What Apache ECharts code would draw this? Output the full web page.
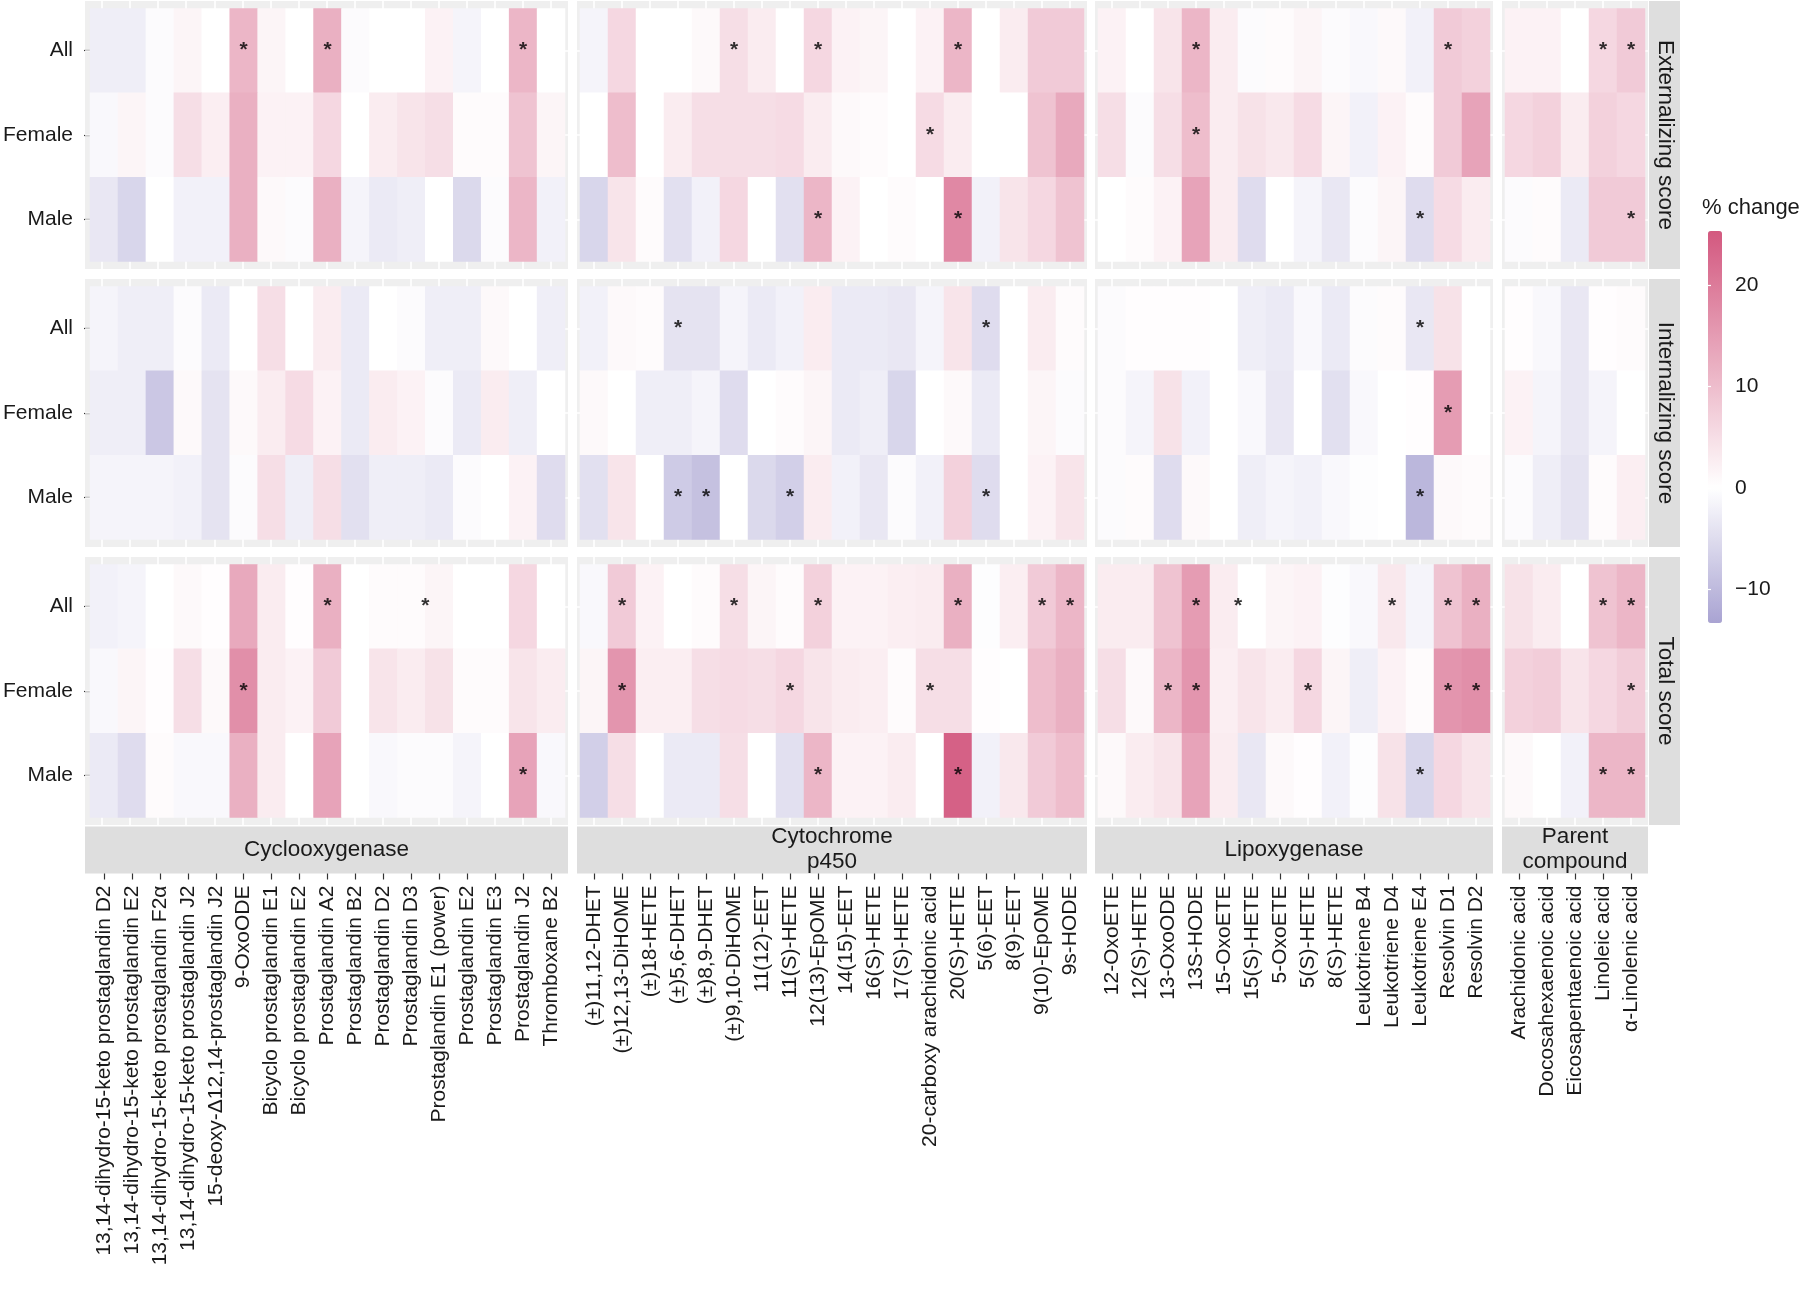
<!DOCTYPE html>
<html>
<head>
<meta charset="utf-8">
<script src="https://cdn.jsdelivr.net/npm/echarts@6/dist/echarts.min.js"></script>
<style>
  html, body { margin: 0; background: #fff; }
  #chart { width: 1800px; height: 1293px; }
</style>
</head>
<body>
<div id="chart"></div>
<script>
// facet labels
const scoreNames = ['Externalizing score', 'Internalizing score', 'Total score'];
const groupNames = ['Cyclooxygenase', 'Cytochrome\np450', 'Lipoxygenase', 'Parent\ncompound'];
const sexes = ['All', 'Female', 'Male'];

// metabolites per pathway
const cyclooxygenase = [
  '13,14-dihydro-15-keto prostaglandin D2', '13,14-dihydro-15-keto prostaglandin E2',
  '13,14-dihydro-15-keto prostaglandin F2α', '13,14-dihydro-15-keto prostaglandin J2',
  '15-deoxy-Δ12,14-prostaglandin J2', '9-OxoODE', 'Bicyclo prostaglandin E1',
  'Bicyclo prostaglandin E2', 'Prostaglandin A2', 'Prostaglandin B2', 'Prostaglandin D2',
  'Prostaglandin D3', 'Prostaglandin E1 (power)', 'Prostaglandin E2', 'Prostaglandin E3',
  'Prostaglandin J2', 'Thromboxane B2'
];
const cytochrome = [
  '(±)11,12-DHET', '(±)12,13-DiHOME', '(±)18-HETE', '(±)5,6-DHET', '(±)8,9-DHET',
  '(±)9,10-DiHOME', '11(12)-EET', '11(S)-HETE', '12(13)-EpOME', '14(15)-EET', '16(S)-HETE',
  '17(S)-HETE', '20-carboxy arachidonic acid', '20(S)-HETE', '5(6)-EET', '8(9)-EET',
  '9(10)-EpOME', '9s-HODE'
];
const lipoxygenase = [
  '12-OxoETE', '12(S)-HETE', '13-OxoODE', '13S-HODE', '15-OxoETE', '15(S)-HETE', '5-OxoETE',
  '5(S)-HETE', '8(S)-HETE', 'Leukotriene B4', 'Leukotriene D4', 'Leukotriene E4',
  'Resolvin D1', 'Resolvin D2'
];
const parentCompound = [
  'Arachidonic acid', 'Docosahexaenoic acid', 'Eicosapentaenoic acid', 'Linoleic acid', 'α-Linolenic acid'
];

// % change, rows = All, Female, Male
const extCox = [
  [-2.5, -2.5, -0.5, 1.5, 0, 11, 1.5, 0, 12, -0.5, 0, 0, 2, -1.5, 0, 11, 0],
  [-1, 1.5, -0.5, 5, 2.5, 12, 2, 2, 6, 0, 3, 4, 5, 0.5, 0.5, 9, 1.5],
  [-3.5, -6, 0, -2, -2, 12, 1, -0.5, 12, -1.5, -3, -2.5, 0, -5.5, -0.5, 11, -2]
];
const extCyp = [
  [-1.5, 6, 0, 0, 1, 5, 3, 0, 6, 2, 1.5, 0, 2, 11, 0, 3, 8, 8],
  [0, 10, 0, 3, 5, 5, 5, 5.5, 3, 1, 0.5, 0, 5.5, 3, 0, 0, 9, 13],
  [-6, 4, 0.5, -4.5, -2, 6, 0, -4.5, 11, 2, 0, 0.5, 0, 18, -2, 4, 6, 9]
];
const extLox = [
  [2, 0, 4, 11, 3, -0.5, 0.5, 1.5, -0.5, -1, 1, -2, 8, 7],
  [5, -0.5, 5, 10, 3, 4.5, 3.5, 5.5, 1.5, -2, 2, 0.5, 8, 14],
  [0, 0.5, 2, 14, 3, -5, 0, -1.5, -3.5, -0.5, 1.5, -5, 5.5, 3]
];
const extParent = [
  [2, 2, 0, 6, 8],
  [6, 7, 3, 7, 6],
  [-0.5, 0.5, -3, 8, 8]
];
const intCox = [
  [-1.5, -2.5, -2.5, -0.5, -3, 0, 5, 0, 3, -3, 0, -0.5, -2.5, -2.5, 1, 0, -2.5],
  [-2.5, -2.5, -8, 1, -4, 1, 3, 5.5, 2, -3, 3, 2, -0.5, -3, 3, -2.5, 0],
  [-1.5, -1.5, -1.5, -2, -4, -0.5, 5, -2.5, 5, -4.5, -2.5, -2.5, -3, -0.5, 0, 2, -5]
];
const intCyp = [
  [-2, 1, 0.5, -4, -4, -1.5, -3, -2, 3, -3, -3, -3.5, -1.5, 4, -5, 0, 3, 0.5],
  [1, 0, -2.5, -2.5, -1.5, -5, 0, 0.5, 1.5, -3, -2.5, -6, 0, 1, -3, 0, 1.5, -0.5],
  [-4.5, 4, 0, -7.5, -9, 0, -5.5, -7, 3, -2, -3.5, -0.5, -2, 7, -5, 0, 2, 4]
];
const intLox = [
  [-0.5, 0.3, 0.3, 0.3, 0, -2.5, -3, -1, -3, -0.5, 0.5, -3.5, 4.5, 0],
  [-0.5, -1.5, 4.5, -2, 0, -1, -3.5, 0, -4.5, -1, 0, 0.3, 15, 0],
  [-0.5, 0.5, -5, 1, 0, -2.5, -1.5, -2, -1, -0.3, 0, -10.5, 1, 0.5]
];
const intParent = [
  [0.3, -1, -3.5, 0.3, 0.5],
  [2, -1.5, -3.5, -1.5, 0],
  [-0.5, -2.5, -4, 0.5, 2.5]
];
const totCox = [
  [-2, -1.5, 0, 1, 0.3, 13, 3, 0.3, 12, 0, 0.5, 0.5, 1.5, 0, 0, 6, 0],
  [-1, 1.5, 0.3, 5, 1, 17, 3, 2, 8, 0, 4, 3, 4.5, 0.5, 0.5, 4, 3],
  [-3, -5, 0.5, -1, -1, 12, 3, 0, 14, 0, -1, -0.5, -0.5, -1.5, 0, 14, -1]
];
const totCyp = [
  [-1, 8, 2, 0, 0.5, 5, 1.5, 0.5, 7, 2, 2, 2.5, 3, 12, -0.3, 2.5, 8, 11],
  [1.5, 16, 2.5, 2.5, 5, 5.5, 5, 6, 4, 3, 2.5, 0.5, 5, 5, 0.3, 0, 10, 12],
  [-7, 5, 0, -3, -3, 5, 0, -4.5, 11, 2, 2, 3, 0, 24, -2, 3.5, 8, 10]
];
const totLox = [
  [3, 3, 9, 15, 3, 0, 1.5, 2, -0.3, -1, 3.5, -1.5, 9, 12],
  [5, 1, 11, 16, 2.5, 4, 3, 6, 1.5, -2.5, 2, 0.5, 16, 17],
  [1, 3, 4, 14, 3, -3.5, 1, 0.3, -2, -0.3, 4.5, -6, 6, 4]
];
const totParent = [
  [4.5, 3, 0, 9, 11],
  [7, 7.5, 4, 6, 7.5],
  [1, 0, -2, 11, 11]
];

// significant cells [column, row]
const extCoxStars = [[5, 0], [8, 0], [15, 0]];
const extCypStars = [[5, 0], [8, 0], [13, 0], [12, 1], [8, 2], [13, 2]];
const extLoxStars = [[3, 0], [12, 0], [3, 1], [11, 2]];
const extParentStars = [[3, 0], [4, 0], [4, 2]];
const intCoxStars = [];
const intCypStars = [[3, 0], [14, 0], [3, 2], [4, 2], [7, 2], [14, 2]];
const intLoxStars = [[11, 0], [12, 1], [11, 2]];
const intParentStars = [];
const totCoxStars = [[8, 0], [5, 1], [15, 2]];
const totCypStars = [[1, 0], [5, 0], [8, 0], [13, 0], [16, 0], [17, 0], [1, 1], [7, 1], [12, 1], [8, 2], [13, 2]];
const totLoxStars = [[3, 0], [10, 0], [12, 0], [13, 0], [2, 1], [3, 1], [7, 1], [12, 1], [13, 1], [11, 2]];
const totParentStars = [[3, 0], [4, 0], [4, 1], [3, 2], [4, 2]];
// stars printed on the line between two columns: [score, group, left column, row]
const betweenStars = [[2, 0, 11, 0], [2, 2, 4, 0]];

const legendTicks = [-10, 0, 10, 20];
const scaleMin = -13.3, scaleMax = 25.3;

// ---- layout ----
const panelX = [[88, 477], [580, 504], [1098, 392], [1505, 140]];
const panelTop = [8.5, 286.5, 564.5];
const tileH = 253, padX = 3, padY = 7.5;
const FONT = "'Liberation Sans', Arial, Helvetica, sans-serif";
const PANEL_BG = '#efefef', STRIP_BG = '#dedede';

const groups = [cyclooxygenase, cytochrome, lipoxygenase, parentCompound];
const values = [
  [extCox, extCyp, extLox, extParent],
  [intCox, intCyp, intLox, intParent],
  [totCox, totCyp, totLox, totParent]
];
const stars = [
  [extCoxStars, extCypStars, extLoxStars, extParentStars],
  [intCoxStars, intCypStars, intLoxStars, intParentStars],
  [totCoxStars, totCypStars, totLoxStars, totParentStars]
];

// colour ramp (lavender - white - pink, zero = white)
function hex(c) { return [1, 3, 5].map(i => parseInt(c.substr(i, 2), 16)); }
const stops = [[scaleMin, hex('#a9a3d2')], [0, hex('#ffffff')], [scaleMax, hex('#d3587f')]];
function rampColor(v) {
  let a = stops[0], b = stops[1];
  if (v > 0) { a = stops[1]; b = stops[2]; }
  const t = (v - a[0]) / (b[0] - a[0]);
  const c = a[1].map((x, i) => Math.round(x + (b[1][i] - x) * t));
  return 'rgb(' + c.join(',') + ')';
}
const rampColors = [];
for (let i = 0; i <= 200; i++) rampColors.push(rampColor(scaleMin + (scaleMax - scaleMin) * i / 200));

const grid = [], xAxis = [], yAxis = [], series = [], graphic = [];
const heatIdx = [];
let k = 0;
for (let s = 0; s < 3; s++) {
  for (let g = 0; g < 4; g++) {
    const cats = groups[g];
    const n = cats.length;
    const [left, width] = panelX[g];
    const top = panelTop[s];
    const cell = width / n;
    const rowH = tileH / 3;

    // grey panel with white grid lines (hidden under the tiles)
    grid.push({ left: left - padX, top: top - padY, width: width + 2 * padX, height: tileH + 2 * padY,
      show: true, backgroundColor: PANEL_BG, borderWidth: 0, z: 0 });
    xAxis.push({ gridIndex: 2 * k, type: 'value', show: false,
      min: -0.5 - padX / cell, max: n - 0.5 + padX / cell });
    yAxis.push({ gridIndex: 2 * k, type: 'value', show: false, inverse: true,
      min: -0.5 - padY / rowH, max: 2.5 + padY / rowH });
    series.push({
      type: 'scatter', xAxisIndex: 2 * k, yAxisIndex: 2 * k, data: [[0, 0]], symbolSize: 0, silent: true, z: 1,
      markLine: {
        z: 1, silent: true, symbol: ['none', 'none'], animation: false, label: { show: false },
        lineStyle: { color: '#ffffff', width: 1.6, type: 'solid' },
        data: cats.map((_, i) => ({ xAxis: i })).concat(sexes.map((_, r) => ({ yAxis: r })))
      }
    });

    // tile grid
    grid.push({ left: left, top: top, width: width, height: tileH, z: 3 });
    const bottom = s === 2;
    xAxis.push({
      gridIndex: 2 * k + 1, type: 'category', data: cats, show: bottom, offset: 56,
      axisLine: { show: false },
      axisTick: { show: bottom, length: 6, alignWithLabel: true, lineStyle: { color: '#333', width: 1.2 } },
      axisLabel: { show: bottom, interval: 0, rotate: 90, margin: 12, fontSize: 21,
        fontFamily: FONT, color: '#1a1a1a' },
      splitLine: { show: false }
    });
    yAxis.push({
      gridIndex: 2 * k + 1, type: 'category', data: sexes, inverse: true, show: g === 0,
      axisLine: { show: false },
      axisTick: { show: g === 0, length: 6, alignWithLabel: true, lineStyle: { color: '#333', width: 1.2 } },
      axisLabel: { show: g === 0, margin: 17, fontSize: 21, fontFamily: FONT, color: '#1a1a1a' },
      splitLine: { show: false }
    });
    const data = [];
    values[s][g].forEach((row, r) => row.forEach((v, c) => data.push([c, r, v])));
    heatIdx.push(series.length);
    series.push({ type: 'heatmap', xAxisIndex: 2 * k + 1, yAxisIndex: 2 * k + 1, data: data,
      z: 3, silent: true, itemStyle: { borderWidth: 0 }, emphasis: { disabled: true } });

    const starData = stars[s][g].map(p => [p[0], p[1]]);
    betweenStars.filter(b => b[0] === s && b[1] === g).forEach(b => {
      starData.push({ value: [b[2], b[3]], label: { offset: [cell / 2, 0] } });
    });
    series.push({
      type: 'scatter', xAxisIndex: 2 * k + 1, yAxisIndex: 2 * k + 1, data: starData,
      symbolSize: 1, itemStyle: { color: 'rgba(0,0,0,0)' }, silent: true, z: 6,
      label: { show: true, formatter: '*', position: 'inside', fontSize: 21, fontWeight: 'bold',
        fontFamily: FONT, color: '#000' }
    });
    k++;
  }
}

// bottom strips (pathways)
const stripTop = panelTop[2] + tileH + padY + 1.5;
groupNames.forEach((name, g) => {
  const [left, width] = panelX[g];
  graphic.push({ type: 'rect', silent: true,
    shape: { x: left - padX, y: stripTop, width: width + 2 * padX, height: 47 },
    style: { fill: STRIP_BG } });
  graphic.push({ type: 'text', silent: true, x: left + width / 2, y: stripTop + 23,
    style: { text: name, fontSize: 22.5, fontFamily: FONT, fill: '#1a1a1a',
      align: 'center', verticalAlign: 'middle', lineHeight: 25 } });
});
// right strips (scores)
scoreNames.forEach((name, s) => {
  const x0 = panelX[3][0] + panelX[3][1] + padX + 1;
  graphic.push({ type: 'rect', silent: true,
    shape: { x: x0, y: panelTop[s] - padY, width: 31, height: tileH + 2 * padY },
    style: { fill: STRIP_BG } });
  graphic.push({ type: 'text', silent: true, x: x0 + 16, y: panelTop[s] + tileH / 2,
    rotation: -Math.PI / 2,
    style: { text: name, fontSize: 22.5, fontFamily: FONT, fill: '#1a1a1a',
      align: 'center', verticalAlign: 'middle' } });
});
// legend title
graphic.push({ type: 'text', silent: true, x: 1702, y: 208,
  style: { text: '% change', fontSize: 22, fontFamily: FONT, fill: '#1a1a1a',
    align: 'left', verticalAlign: 'middle' } });

// legend axis
const legendBox = { left: 1708, top: 231, width: 14, height: 392 };
grid.push(Object.assign({}, legendBox));
const lg = grid.length - 1;
xAxis.push({ gridIndex: lg, type: 'value', show: false, min: 0, max: 1 });
yAxis.push({
  gridIndex: lg, type: 'value', min: scaleMin, max: scaleMax, position: 'right', z: 10,
  axisLine: { show: false }, splitLine: { show: false },
  axisTick: { show: true, inside: true, length: 3, customValues: legendTicks,
    lineStyle: { color: '#ffffff', width: 1.2 } },
  axisLabel: { show: true, customValues: legendTicks, margin: 13, fontSize: 21, fontFamily: FONT,
    color: '#1a1a1a', formatter: v => String(v).replace('-', '\u2212') }
});
yAxis.push({
  gridIndex: lg, type: 'value', min: scaleMin, max: scaleMax, position: 'left', z: 10,
  axisLine: { show: false }, splitLine: { show: false }, axisLabel: { show: false },
  axisTick: { show: true, inside: true, length: 3, customValues: legendTicks,
    lineStyle: { color: '#ffffff', width: 1.2 } }
});

const chart = echarts.init(document.getElementById('chart'));
chart.setOption({
  animation: false,
  backgroundColor: '#ffffff',
  grid: grid,
  xAxis: xAxis,
  yAxis: yAxis,
  visualMap: {
    type: 'continuous', min: scaleMin, max: scaleMax, seriesIndex: heatIdx,
    left: legendBox.left, top: legendBox.top, itemWidth: legendBox.width, itemHeight: legendBox.height,
    calculable: false, hoverLink: false, padding: 0, text: null, showLabel: false,
    inRange: { color: rampColors }
  },
  graphic: graphic,
  series: series
});
</script>
</body>
</html>
